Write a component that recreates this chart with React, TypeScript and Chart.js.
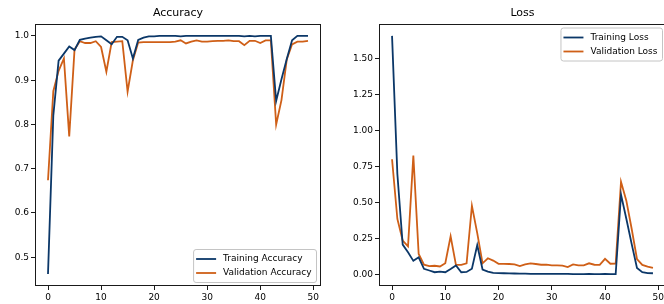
import React, { useEffect, useRef } from "react";
import { Chart, registerables } from "chart.js";

Chart.register(...registerables);

// ---------- data ----------
const EPOCHS = Array.from({ length: 50 }, (_, i) => i);
const X_TICKS = [0, 10, 20, 30, 40, 50];
const ACC_TICKS = [0.5, 0.6, 0.7, 0.8, 0.9, 1.0];
const LOSS_TICKS = [0, 0.25, 0.5, 0.75, 1.0, 1.25, 1.5];

const TRAIN_ACC = [
  0.462, 0.82, 0.944, 0.96, 0.976, 0.968, 0.991, 0.994, 0.996, 0.998,
  0.999, 0.99, 0.981, 0.998, 0.998, 0.99, 0.949, 0.991, 0.996, 0.999,
  0.999, 1.0, 1.0, 1.0, 1.0, 0.999, 1.0, 1.0, 1.0, 1.0,
  1.0, 1.0, 1.0, 1.0, 1.0, 1.0, 1.0, 0.999, 1.0, 0.999,
  1.0, 1.0, 1.0, 0.853, 0.902, 0.948, 0.99, 1.0, 1.0, 1.0,
];
const VAL_ACC = [
  0.674, 0.875, 0.921, 0.949, 0.773, 0.969, 0.988, 0.984, 0.984, 0.988,
  0.975, 0.919, 0.986, 0.987, 0.988, 0.874, 0.945, 0.985, 0.986, 0.986,
  0.986, 0.986, 0.986, 0.986, 0.987, 0.99, 0.983, 0.987, 0.99, 0.987,
  0.987, 0.988, 0.989, 0.989, 0.99, 0.988, 0.988, 0.979, 0.989, 0.989,
  0.984, 0.99, 0.99, 0.8, 0.855, 0.947, 0.981, 0.987, 0.987, 0.989,
];
const TRAIN_LOSS = [
  1.66, 0.7, 0.21, 0.157, 0.097, 0.122, 0.042, 0.03, 0.018, 0.022,
  0.018, 0.04, 0.065, 0.018, 0.02, 0.042, 0.206, 0.037, 0.022, 0.013,
  0.012, 0.011, 0.01, 0.009, 0.008, 0.008, 0.007, 0.007, 0.007, 0.006,
  0.006, 0.006, 0.006, 0.006, 0.005, 0.005, 0.005, 0.006, 0.005, 0.005,
  0.006, 0.005, 0.005, 0.558, 0.39, 0.215, 0.048, 0.018, 0.012, 0.011,
];
const VAL_LOSS = [
  0.803, 0.388, 0.238, 0.198, 0.828, 0.145, 0.07, 0.06, 0.063, 0.058,
  0.08, 0.268, 0.069, 0.069, 0.08, 0.48, 0.29, 0.08, 0.115, 0.099,
  0.076, 0.076, 0.075, 0.072, 0.06, 0.072, 0.08, 0.075, 0.07, 0.071,
  0.066, 0.066, 0.064, 0.054, 0.072, 0.066, 0.066, 0.08, 0.07, 0.069,
  0.111, 0.077, 0.078, 0.647, 0.515, 0.32, 0.11, 0.069, 0.057, 0.048,
];

const BLUE = "#0b3768";
const ORANGE = "#cf5f17";
const FONT = "DejaVu Sans";

// ---------- plugins ----------
const framePlugin = {
  id: "frame",
  afterDatasetsDraw(chart: any) {
    const { ctx, chartArea: a } = chart;
    ctx.save();
    ctx.strokeStyle = "#1a1a1a";
    ctx.lineWidth = 1;
    const l = Math.round(a.left) + 0.5;
    const t = Math.round(a.top) + 0.5;
    const r = Math.round(a.right) - 0.5;
    const b = Math.round(a.bottom) - 0.5;
    ctx.strokeRect(l, t, r - l, b - t);
    ctx.restore();
  },
};

const boxLegend = {
  id: "boxLegend",
  afterDraw(chart: any, _args: any, opts: any) {
    const { ctx, chartArea: a } = chart;
    ctx.save();
    ctx.font = `9px "${FONT}"`;
    const sets = chart.data.datasets;
    const tw = Math.max(...sets.map((d: any) => ctx.measureText(d.label).width));
    const padL = 2.5, handle = 20, gap = 7, padR = 5, padV = 2.5, row = 14;
    const w = padL + handle + gap + tw + padR;
    const h = padV * 2 + row * sets.length;
    const x = a.right - opts.offX - w;
    const y = opts.loc === "upper" ? a.top + opts.offY : a.bottom - opts.offY - h;
    const rad = 2.5;
    ctx.beginPath();
    ctx.moveTo(x + rad, y);
    ctx.lineTo(x + w - rad, y);
    ctx.quadraticCurveTo(x + w, y, x + w, y + rad);
    ctx.lineTo(x + w, y + h - rad);
    ctx.quadraticCurveTo(x + w, y + h, x + w - rad, y + h);
    ctx.lineTo(x + rad, y + h);
    ctx.quadraticCurveTo(x, y + h, x, y + h - rad);
    ctx.lineTo(x, y + rad);
    ctx.quadraticCurveTo(x, y, x + rad, y);
    ctx.closePath();
    ctx.fillStyle = "rgba(255,255,255,0.85)";
    ctx.fill();
    ctx.strokeStyle = "#c4c4c4";
    ctx.lineWidth = 1;
    ctx.stroke();
    sets.forEach((d: any, i: number) => {
      const cy = y + padV + row * i + row / 2;
      ctx.strokeStyle = d.borderColor;
      ctx.lineWidth = 1.8;
      ctx.beginPath();
      ctx.moveTo(x + padL, cy);
      ctx.lineTo(x + padL + handle, cy);
      ctx.stroke();
      ctx.fillStyle = "#000";
      ctx.textBaseline = "middle";
      ctx.textAlign = "left";
      ctx.fillText(d.label, x + padL + handle + gap, cy);
    });
    ctx.restore();
  },
};

function series(ys: number[]) {
  return EPOCHS.map((e, i) => ({ x: e, y: ys[i] }));
}

function marginRange(arrs: number[][]) {
  const all = arrs.flat();
  const mn = Math.min(...all);
  const mx = Math.max(...all);
  const m = (mx - mn) * 0.05;
  return [mn - m, mx + m];
}

function makeConfig(opts: {
  title: string;
  labels: [string, string];
  a: number[];
  b: number[];
  yTicks: number[];
  digits: number;
  yWidth: number;
  padRight: number;
  loc: string;
  offX: number;
  offY: number;
}) {
  const [ymin, ymax] = marginRange([opts.a, opts.b]);
  const xr = (EPOCHS[EPOCHS.length - 1] - EPOCHS[0]) * 0.05;
  const tickFont = { family: FONT, size: 9 };
  const grid = {
    display: true,
    drawOnChartArea: false,
    drawTicks: true,
    tickLength: 4,
    color: "#1a1a1a",
    lineWidth: 1,
  };
  const ds = (label: string, ys: number[], color: string) => ({
    label,
    data: series(ys),
    borderColor: color,
    backgroundColor: color,
    borderWidth: 1.8,
    pointRadius: 0,
    tension: 0,
    fill: false,
  });
  return {
    type: "line",
    data: {
      datasets: [ds(opts.labels[0], opts.a, BLUE), ds(opts.labels[1], opts.b, ORANGE)],
    },
    options: {
      responsive: false,
      animation: false,
      events: [],
      layout: { padding: { left: 0, right: opts.padRight, top: 0, bottom: 0 } },
      plugins: {
        legend: { display: false },
        tooltip: { enabled: false },
        title: {
          display: true,
          text: opts.title,
          fullSize: false,
          color: "#000",
          font: { family: FONT, size: 11, weight: "normal" },
          padding: { top: 7, bottom: 3.8 },
        },
        boxLegend: { loc: opts.loc, offX: opts.offX, offY: opts.offY },
      },
      scales: {
        x: {
          type: "linear",
          min: EPOCHS[0] - xr,
          max: EPOCHS[EPOCHS.length - 1] + xr,
          afterBuildTicks: (s: any) => {
            s.ticks = X_TICKS.map((v) => ({ value: v }));
          },
          afterFit: (s: any) => {
            s.height = 18;
          },
          ticks: {
            font: tickFont,
            color: "#000",
            padding: 2,
            maxRotation: 0,
            autoSkip: false,
            callback: (v: any) => String(v),
          },
          grid,
          border: { display: false },
        },
        y: {
          type: "linear",
          min: ymin,
          max: ymax,
          afterBuildTicks: (s: any) => {
            s.ticks = opts.yTicks.map((v) => ({ value: v }));
          },
          afterFit: (s: any) => {
            s.width = opts.yWidth;
          },
          ticks: {
            font: tickFont,
            color: "#000",
            padding: 2,
            autoSkip: false,
            callback: (v: any) => Number(v).toFixed(opts.digits),
          },
          grid,
          border: { display: false },
        },
      },
    },
    plugins: [framePlugin, boxLegend],
  };
}

function ChartCanvas({ left, width, config }: { left: number; width: number; config: any }) {
  const ref = useRef<HTMLCanvasElement | null>(null);
  useEffect(() => {
    if (!ref.current) return;
    const chart = new Chart(ref.current, config);
    return () => chart.destroy();
  }, []);
  return (
    <canvas
      ref={ref}
      width={width}
      height={304}
      style={{ position: "absolute", left, top: 0, width, height: 304, display: "block" }}
    />
  );
}

export default function App() {
  const accConfig = makeConfig({
    title: "Accuracy",
    labels: ["Training Accuracy", "Validation Accuracy"],
    a: TRAIN_ACC,
    b: VAL_ACC,
    yTicks: ACC_TICKS,
    digits: 1,
    yWidth: 35,
    padRight: 11,
    loc: "lower",
    offX: 4.5,
    offY: 3.5,
  });
  const lossConfig = makeConfig({
    title: "Loss",
    labels: ["Training Loss", "Validation Loss"],
    a: TRAIN_LOSS,
    b: VAL_LOSS,
    yTicks: LOSS_TICKS,
    digits: 2,
    yWidth: 47,
    padRight: 2,
    loc: "upper",
    offX: 3.5,
    offY: 4,
  });
  return (
    <div
      style={{
        position: "absolute",
        left: 0,
        top: 0,
        width: 664,
        height: 304,
        overflow: "hidden",
        background: "#fff",
      }}
    >
      <ChartCanvas left={0} width={332} config={accConfig} />
      <ChartCanvas left={332} width={336} config={lossConfig} />
    </div>
  );
}
